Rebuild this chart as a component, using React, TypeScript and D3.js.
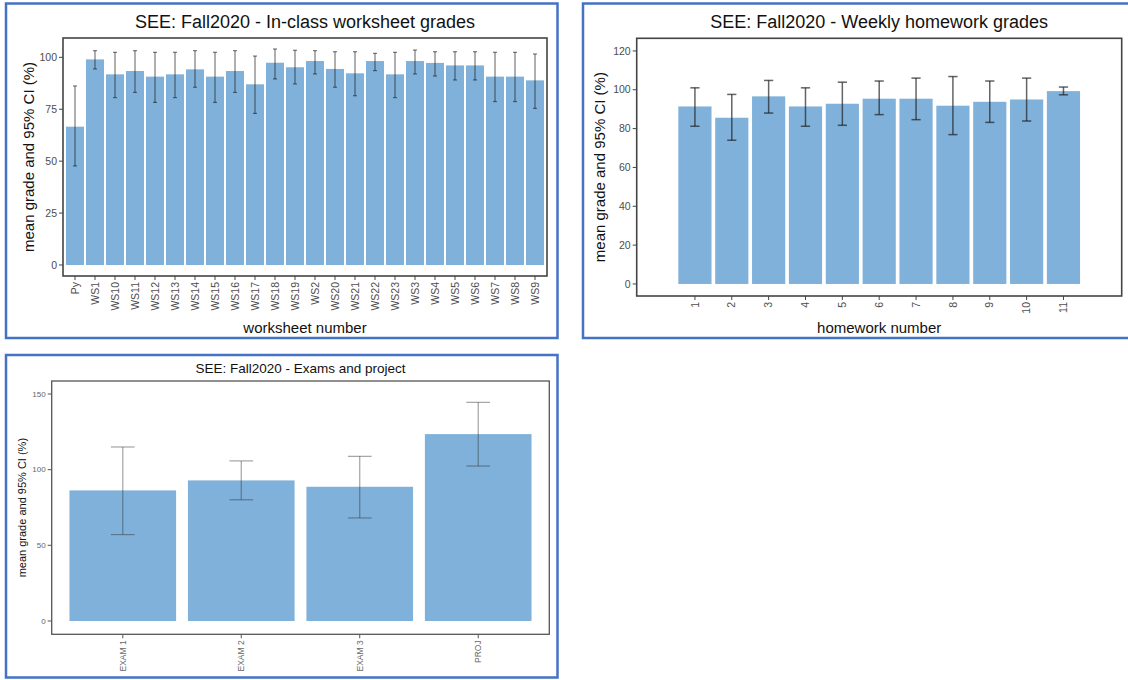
import React, { useEffect } from 'react';
import * as d3 from 'd3';

// ---------- Data ----------
const wsCategories = ['Py', 'WS1', 'WS10', 'WS11', 'WS12', 'WS13', 'WS14', 'WS15', 'WS16', 'WS17', 'WS18', 'WS19', 'WS2', 'WS20', 'WS21', 'WS22', 'WS23', 'WS3', 'WS4', 'WS5', 'WS6', 'WS7', 'WS8', 'WS9'];
const wsMeans = [66.6, 99.0, 91.8, 93.4, 90.7, 91.8, 94.2, 90.7, 93.4, 87.0, 97.4, 95.2, 98.2, 94.4, 92.3, 98.2, 91.8, 98.2, 97.3, 96.1, 96.1, 90.7, 90.7, 88.9];
const wsLower = [47.7, 94.4, 80.6, 83.1, 78.3, 80.6, 85.6, 78.3, 83.1, 73.0, 89.6, 87.2, 92.0, 85.6, 81.5, 93.6, 80.6, 92.0, 91.0, 89.1, 89.1, 78.7, 78.7, 75.4];
const wsUpper = [86.2, 103.2, 102.4, 103.2, 102.4, 102.4, 103.2, 102.4, 103.2, 100.6, 104.0, 103.4, 103.2, 102.7, 102.7, 101.9, 102.4, 103.5, 102.7, 102.7, 102.7, 102.4, 102.4, 101.6];
const wsTicks = [0, 25, 50, 75, 100];

const hwCategories = ['1', '2', '3', '4', '5', '6', '7', '8', '9', '10', '11'];
const hwMeans = [91.4, 85.6, 96.6, 91.4, 92.8, 95.4, 95.4, 91.8, 93.8, 95.0, 99.3];
const hwLower = [81.2, 74.0, 88.0, 81.2, 81.7, 87.2, 84.6, 76.9, 83.2, 83.9, 97.4];
const hwUpper = [101.0, 97.6, 104.8, 101.0, 103.9, 104.5, 106.0, 106.8, 104.5, 106.0, 101.4];
const hwTicks = [0, 20, 40, 60, 80, 100, 120];

const examCategories = ['EXAM 1', 'EXAM 2', 'EXAM 3', 'PROJ'];
const examMeans = [86.3, 92.9, 88.7, 123.5];
const examLower = [57.1, 80.1, 68.1, 102.4];
const examUpper = [115.0, 105.8, 108.8, 144.5];
const examTicks = [0, 50, 100, 150];

const FONT = '"Liberation Sans", Arial, Helvetica, sans-serif';
const BAR = '#7fb1da';
const FRAME = '#4472c4';

type PanelProps = {
  frame: [number, number, number, number];
  plot: { l: number; t: number; r: number; b: number };
  yDomain: [number, number];
  cats: string[];
  means: number[];
  lower: number[];
  upper: number[];
  ticks: number[];
  paddingOuter: number;
  capFrac: number;
  title: string;
  titleSize: number;
  titleY: number;
  yTitle: string;
  yTitleX: number;
  axisTitleSize: number;
  xTitle?: string;
  xTitleY?: number;
  tickSize: number;
  xTickSize: number;
  errColor: string;
  errOpacity: number;
  errWidth: number;
  borderColor: string;
  borderWidth: number;
  textColor: string;
};

function Panel(p: PanelProps) {
  const { l, t, r, b } = p.plot;
  const x = d3.scaleBand<string>().domain(p.cats).range([l, r]).paddingInner(0.1).paddingOuter(p.paddingOuter);
  const y = d3.scaleLinear().domain(p.yDomain).range([b, t]);
  const step = x.step();
  const cap = step * p.capFrac;
  const cx = (l + r) / 2;
  const cy = (t + b) / 2;
  return (
    <g>
      <rect x={p.frame[0]} y={p.frame[1]} width={p.frame[2]} height={p.frame[3]} fill="white" stroke={FRAME} strokeWidth={2.5} />
      <text x={cx} y={p.titleY} textAnchor="middle" fontSize={p.titleSize} fontFamily={FONT} fill="#111">{p.title}</text>
      {p.cats.map((c, i) => (
        <rect key={c} x={x(c)} y={y(p.means[i])} width={x.bandwidth()} height={y(0) - y(p.means[i])} fill={BAR} />
      ))}
      {p.cats.map((c, i) => {
        const xc = (x(c) as number) + x.bandwidth() / 2;
        return (
          <g key={'e' + c} stroke={p.errColor} strokeOpacity={p.errOpacity} strokeWidth={p.errWidth} fill="none">
            <line x1={xc} x2={xc} y1={y(p.lower[i])} y2={y(p.upper[i])} />
            <line x1={xc - cap / 2} x2={xc + cap / 2} y1={y(p.lower[i])} y2={y(p.lower[i])} />
            <line x1={xc - cap / 2} x2={xc + cap / 2} y1={y(p.upper[i])} y2={y(p.upper[i])} />
          </g>
        );
      })}
      <rect x={l} y={t} width={r - l} height={b - t} fill="none" stroke={p.borderColor} strokeWidth={p.borderWidth} />
      {p.ticks.map((v) => (
        <g key={'y' + v}>
          <line x1={l - 4} x2={l} y1={y(v)} y2={y(v)} stroke={p.borderColor} strokeWidth={1} />
          <text x={l - 6} y={y(v)} dy="0.35em" textAnchor="end" fontSize={p.tickSize} fontFamily={FONT} fill={p.textColor}>{v}</text>
        </g>
      ))}
      {p.cats.map((c) => {
        const xc = (x(c) as number) + x.bandwidth() / 2;
        return (
          <g key={'x' + c}>
            <line x1={xc} x2={xc} y1={b} y2={b + 4} stroke={p.borderColor} strokeWidth={1} />
            <text transform={`translate(${xc},${b + 6}) rotate(-90)`} dy="0.35em" textAnchor="end" fontSize={p.xTickSize} fontFamily={FONT} fill={p.textColor}>{c}</text>
          </g>
        );
      })}
      <text transform={`translate(${p.yTitleX},${cy}) rotate(-90)`} dy="0.35em" textAnchor="middle" fontSize={p.axisTitleSize} fontFamily={FONT} fill="#111">{p.yTitle}</text>
      {p.xTitle && (
        <text x={cx} y={p.xTitleY} textAnchor="middle" fontSize={p.axisTitleSize} fontFamily={FONT} fill="#111">{p.xTitle}</text>
      )}
    </g>
  );
}

export default function App() {
  useEffect(() => {
    document.body.style.margin = '0';
  }, []);
  return (
    <svg width={1128} height={680} style={{ position: 'absolute', left: 0, top: 0, display: 'block', background: 'white' }}>
      <Panel
        frame={[6, 3.5, 551.5, 334.5]}
        plot={{ l: 63, t: 38, r: 547, b: 276 }}
        yDomain={[-5.3, 109.3]}
        cats={wsCategories}
        means={wsMeans}
        lower={wsLower}
        upper={wsUpper}
        ticks={wsTicks}
        paddingOuter={0.15}
        capFrac={0.2}
        title="SEE: Fall2020 - In-class worksheet grades"
        titleSize={18}
        titleY={28}
        yTitle="mean grade and 95% CI (%)"
        yTitleX={28.5}
        axisTitleSize={15}
        xTitle="worksheet number"
        xTitleY={333}
        tickSize={10.5}
        xTickSize={10.5}
        errColor="#222"
        errOpacity={0.6}
        errWidth={1.2}
        borderColor="#444"
        borderWidth={1.6}
        textColor="#4d4d4d"
      />
      <Panel
        frame={[583, 3.5, 560, 334.5]}
        plot={{ l: 636.7, t: 38.3, r: 1121.7, b: 296 }}
        yDomain={[-6.2, 126.5]}
        cats={hwCategories}
        means={hwMeans}
        lower={hwLower}
        upper={hwUpper}
        ticks={hwTicks}
        paddingOuter={1.13}
        capFrac={0.25}
        title="SEE: Fall2020 - Weekly homework grades"
        titleSize={18}
        titleY={28}
        yTitle="mean grade and 95% CI (%)"
        yTitleX={600}
        axisTitleSize={15}
        xTitle="homework number"
        xTitleY={333}
        tickSize={10.5}
        xTickSize={10.5}
        errColor="#222"
        errOpacity={0.7}
        errWidth={1.5}
        borderColor="#444"
        borderWidth={1.6}
        textColor="#4d4d4d"
      />
      <Panel
        frame={[6, 355, 551.5, 322.5]}
        plot={{ l: 51.7, t: 381, r: 549.3, b: 634.3 }}
        yDomain={[-8.8, 158.6]}
        cats={examCategories}
        means={examMeans}
        lower={examLower}
        upper={examUpper}
        ticks={examTicks}
        paddingOuter={0.15}
        capFrac={0.2}
        title="SEE: Fall2020 - Exams and project"
        titleSize={13.5}
        titleY={373}
        yTitle="mean grade and 95% CI (%)"
        yTitleX={22.5}
        axisTitleSize={11}
        tickSize={8}
        xTickSize={8.5}
        errColor="#333"
        errOpacity={0.45}
        errWidth={1.2}
        borderColor="#555"
        borderWidth={1.3}
        textColor="#666"
      />
    </svg>
  );
}
